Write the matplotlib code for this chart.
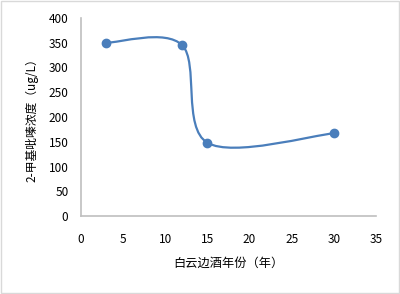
import matplotlib
matplotlib.use('Agg')
import matplotlib.pyplot as plt
from matplotlib.path import Path
from matplotlib.patches import PathPatch, Rectangle

plt.rcParams['font.family'] = ['Noto Sans CJK SC', 'DejaVu Sans']

# data
years = [3, 12, 15, 30]
conc = [350, 345, 148, 167]
x_ticks = [0, 5, 10, 15, 20, 25, 30, 35]
y_ticks = [0, 50, 100, 150, 200, 250, 300, 350, 400]
line_color = '#4a7ebb'
axis_color = '#bfbfbf'


def smooth_path(xs, ys):
    # Excel-style smoothed line: cubic Bezier through every point
    pts = list(zip(xs, ys))
    verts = [pts[0]]
    codes = [Path.MOVETO]
    n = len(pts)
    for i in range(n - 1):
        p0 = pts[max(i - 1, 0)]
        p1 = pts[i]
        p2 = pts[i + 1]
        p3 = pts[min(i + 2, n - 1)]
        c1 = (p1[0] + (p2[0] - p0[0]) / 6, p1[1] + (p2[1] - p0[1]) / 6)
        c2 = (p2[0] - (p3[0] - p1[0]) / 6, p2[1] - (p3[1] - p1[1]) / 6)
        verts += [c1, c2, p2]
        codes += [Path.CURVE4] * 3
    return Path(verts, codes)


fig = plt.figure(figsize=(4, 2.94), dpi=100)
ax = fig.add_axes([0.2025, 0.265, 0.7375, 0.674])

ax.add_patch(PathPatch(smooth_path(years, conc), facecolor='none',
                       edgecolor=line_color, lw=1.6, zorder=2))
ax.plot(years, conc, 'o', color=line_color, markersize=6, zorder=3)

ax.set_xlim(0, 35)
ax.set_ylim(0, 400)
ax.set_xticks(x_ticks)
ax.set_yticks(y_ticks)
ax.tick_params(length=0, labelsize=8.5, colors='black')
ax.tick_params(axis='y', pad=9)
ax.tick_params(axis='x', pad=12)

for side in ['top', 'right']:
    ax.spines[side].set_visible(False)
for side in ['left', 'bottom']:
    ax.spines[side].set_color(axis_color)
    ax.spines[side].set_linewidth(1.2)

ax.set_xlabel('白云边酒年份（年）', fontsize=8.8, labelpad=8)
ax.set_ylabel('2-甲基吡嗪浓度（ug/L）', fontsize=8.5, labelpad=7)

# light frame around the whole chart
fig.patches.append(Rectangle((0.002, 0.003), 0.995, 0.993, transform=fig.transFigure,
                             fill=False, edgecolor='#d9d9d9', lw=1))

fig.savefig('out.png', dpi=100)
